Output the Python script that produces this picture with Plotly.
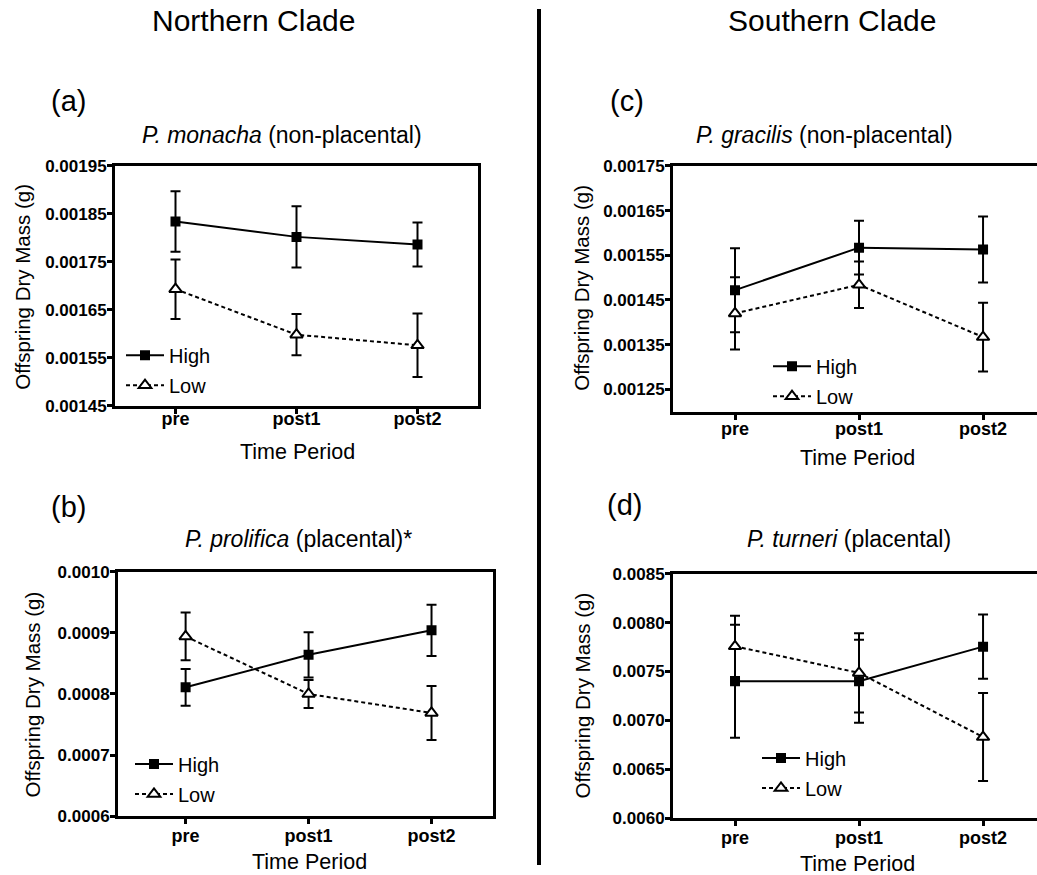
import plotly.graph_objects as go

categories = ["pre", "post1", "post2"]

a_high = [0.001834, 0.001802, 0.001786]
a_high_err = [0.000063, 0.000064, 0.000046]
a_low = [0.001693, 0.001598, 0.001576]
a_low_err = [0.000062, 0.000043, 0.000066]

b_high = [0.000811, 0.000864, 0.000904]
b_high_err = [0.000030, 0.000037, 0.000042]
b_low = [0.000894, 0.000800, 0.000769]
b_low_err = [0.000039, 0.000023, 0.000044]

c_high = [0.001472, 0.001567, 0.001563]
c_high_err = [0.000094, 0.000060, 0.000074]
c_low = [0.001420, 0.001484, 0.001367]
c_low_err = [0.000081, 0.000052, 0.000077]

d_high = [0.007401, 0.007401, 0.007754]
d_high_err = [0.000577, 0.000424, 0.000327]
d_low = [0.007757, 0.007486, 0.006831]
d_low_err = [0.000312, 0.000404, 0.000450]

FONT = "Liberation Sans, Arial, sans-serif"
W, H = 1037, 875

fig = go.Figure()

panels = [
    ("a", a_high, a_high_err, a_low, a_low_err, "x", "y", "legend"),
    ("b", b_high, b_high_err, b_low, b_low_err, "x2", "y2", "legend2"),
    ("c", c_high, c_high_err, c_low, c_low_err, "x3", "y3", "legend3"),
    ("d", d_high, d_high_err, d_low, d_low_err, "x4", "y4", "legend4"),
]

for name, hi, hie, lo, loe, xa, ya, lg in panels:
    fig.add_trace(go.Scatter(
        x=categories, y=hi, name="High", xaxis=xa, yaxis=ya, legend=lg,
        legendgroup=name + "high", mode="lines+markers",
        line=dict(color="black", width=2),
        marker=dict(symbol="square", size=10, color="black"),
        error_y=dict(type="data", array=hie, visible=True, color="black",
                     thickness=2, width=5),
    ))
    fig.add_trace(go.Scatter(
        x=categories, y=lo, name="Low", xaxis=xa, yaxis=ya, legend=lg,
        legendgroup=name + "low", mode="lines+markers",
        line=dict(color="black", width=2, dash="4px,3px"),
        marker=dict(symbol="triangle-up", size=11, color="white",
                    line=dict(color="black", width=2)),
        error_y=dict(type="data", array=loe, visible=True, color="black",
                     thickness=2, width=5),
    ))


def px_x(p):
    return p / W


def px_y(p):
    # page target pixel -> paper fraction (calibrated for the page offset/scale)
    return 1 - ((p - 8) / 0.979) / H


xtickfont = dict(family=FONT, size=18, color="black", weight="bold")
ytickfont = dict(family=FONT, size=17, color="black", weight="bold")
common_x = dict(type="category", showline=True, linewidth=3, linecolor="black",
                ticks="outside", ticklen=5, tickwidth=3, tickcolor="black",
                tickfont=xtickfont, showgrid=False, zeroline=False)
common_y = dict(showline=True, linewidth=3, linecolor="black",
                ticks="outside", ticklen=5, tickwidth=3, tickcolor="black",
                tickfont=ytickfont, showgrid=False, zeroline=False,
                ticklabelstandoff=-3)

fig.update_layout(
    xaxis=dict(common_x, domain=[px_x(115), px_x(478)], range=[-0.5, 2.5],
               anchor="y", mirror=True, ticklabelstandoff=-10),
    yaxis=dict(common_y, domain=[px_y(405), px_y(165)], range=[0.00145, 0.00195],
               tickvals=[0.00145, 0.00155, 0.00165, 0.00175, 0.00185, 0.00195],
               tickformat=".5f", anchor="x", mirror=True),
    xaxis2=dict(common_x, domain=[px_x(118), px_x(493)], range=[-0.55, 2.5],
                anchor="y2", mirror=True, ticklabelstandoff=-4),
    yaxis2=dict(common_y, domain=[px_y(816), px_y(571)], range=[0.0006, 0.0010],
                tickvals=[0.0006, 0.0007, 0.0008, 0.0009, 0.0010],
                tickformat=".4f", anchor="x2", mirror=True),
    xaxis3=dict(common_x, domain=[px_x(673), 1.0], range=[-0.5, 2.435],
                anchor="y3", mirror=True, ticklabelstandoff=-6),
    yaxis3=dict(common_y, domain=[px_y(411), px_y(165)], range=[0.0012, 0.00175],
                tickvals=[0.00125, 0.00135, 0.00145, 0.00155, 0.00165, 0.00175],
                tickformat=".5f", anchor="x3", mirror=False),
    xaxis4=dict(common_x, domain=[px_x(673), 1.0], range=[-0.5, 2.435],
                anchor="y4", mirror=True, ticklabelstandoff=-4),
    yaxis4=dict(common_y, domain=[px_y(818), px_y(573)], range=[0.006, 0.0085],
                tickvals=[0.0060, 0.0065, 0.0070, 0.0075, 0.0080, 0.0085],
                tickformat=".4f", anchor="x4", mirror=False),
)

leg_common = dict(font=dict(family=FONT, size=20, color="black"), bgcolor="rgba(0,0,0,0)",
                  borderwidth=0, xanchor="left", yanchor="top", tracegroupgap=1,
                  traceorder="grouped", itemwidth=38)
fig.update_layout(
    legend=dict(leg_common, x=px_x(121), y=px_y(335)),
    legend2=dict(leg_common, x=px_x(130), y=px_y(744)),
    legend3=dict(leg_common, x=px_x(768), y=px_y(346)),
    legend4=dict(leg_common, x=px_x(757), y=px_y(738)),
)

annotations = [
    ("Northern Clade", 253, 20, 30, 0),
    ("Southern Clade", 832, 20, 30, 0),
    ("(a)", 68, 100, 29, 0),
    ("(b)", 68, 506, 29, 0),
    ("(c)", 627, 100, 29, 0),
    ("(d)", 624, 504, 29, 0),
    ("<i>P. monacha</i> (non-placental)", 282, 134, 23, 0),
    ("<i>P. prolifica</i> (placental)*", 298, 538, 23, 0),
    ("<i>P. gracilis</i> (non-placental)", 824, 134, 23, 0),
    ("<i>P. turneri</i> (placental)", 849, 538, 23, 0),
    ("Time Period", 297, 451, 21.5, 0),
    ("Time Period", 309, 862, 21.5, 0),
    ("Time Period", 857, 457, 21.5, 0),
    ("Time Period", 857, 864, 21.5, 0),
    ("Offspring Dry Mass (g)", 23, 286, 20.5, -90),
    ("Offspring Dry Mass (g)", 32, 694, 20.5, -90),
    ("Offspring Dry Mass (g)", 582, 287, 20.5, -90),
    ("Offspring Dry Mass (g)", 582, 695, 20.5, -90),
]
for text, x, y, size, angle in annotations:
    fig.add_annotation(text=text, x=px_x(x), y=px_y(y), xref="paper", yref="paper",
                       showarrow=False, xanchor="center", yanchor="middle",
                       textangle=angle,
                       font=dict(family=FONT, size=size, color="black"))

fig.add_shape(type="line", xref="paper", yref="paper", x0=px_x(539), x1=px_x(539),
              y0=0, y1=1, line=dict(color="black", width=4))

fig.update_layout(
    width=W, height=H, margin=dict(l=0, r=0, t=0, b=0),
    paper_bgcolor="white", plot_bgcolor="white", showlegend=True,
)

fig.write_html(
    "out.html",
    config={"displayModeBar": False},
    post_script="document.body.style.margin='0';document.body.style.overflow='hidden';",
)
